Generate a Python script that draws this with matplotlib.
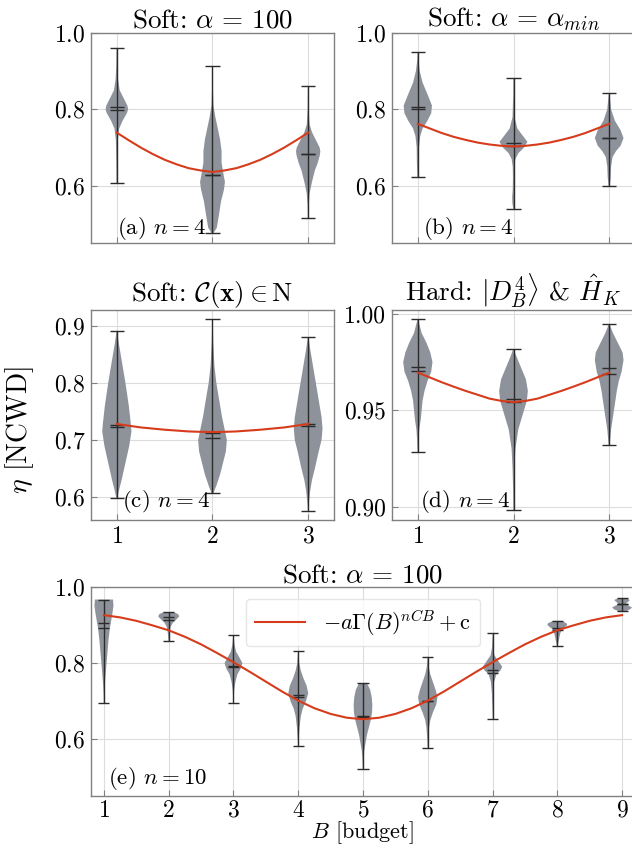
import numpy as np
import matplotlib.pyplot as plt

plt.rcParams["font.family"] = "serif"
plt.rcParams["font.serif"] = ["cmr10"]
plt.rcParams["mathtext.fontset"] = "cm"
plt.rcParams["axes.formatter.use_mathtext"] = True
plt.rcParams["axes.unicode_minus"] = False

# ---- data ----
pos3 = [1, 2, 3]
pos9 = [1, 2, 3, 4, 5, 6, 7, 8, 9]
fit_x3 = [1.0 + 0.125 * i for i in range(17)]

# (a) Soft alpha=100, n=4
a_min = [0.606, 0.476, 0.515]
a_max = [0.962, 0.914, 0.862]
a_mean = [0.806, 0.627, 0.683]
a_median = [0.799, 0.627, 0.683]
a_prof_y = [
    [0.606, 0.66, 0.72, 0.75, 0.77, 0.79, 0.80, 0.81, 0.83, 0.85, 0.88, 0.92, 0.962],
    [0.476, 0.49, 0.52, 0.56, 0.59, 0.61, 0.63, 0.66, 0.69, 0.72, 0.75, 0.78, 0.81, 0.86, 0.914],
    [0.515, 0.55, 0.58, 0.61, 0.64, 0.66, 0.68, 0.69, 0.70, 0.72, 0.74, 0.76, 0.80, 0.862],
]
a_prof_w = [
    [0.003, 0.005, 0.01, 0.025, 0.06, 0.105, 0.118, 0.11, 0.07, 0.03, 0.012, 0.005, 0.003],
    [0.01, 0.045, 0.065, 0.09, 0.12, 0.13, 0.115, 0.095, 0.095, 0.08, 0.055, 0.03, 0.01, 0.004, 0.003],
    [0.003, 0.006, 0.015, 0.04, 0.07, 0.1, 0.122, 0.127, 0.12, 0.08, 0.04, 0.015, 0.005, 0.003],
]
a_fit = [0.739, 0.719, 0.700, 0.683, 0.668, 0.656, 0.646, 0.640, 0.636,
         0.640, 0.646, 0.656, 0.668, 0.683, 0.700, 0.719, 0.739]

# (b) Soft alpha=alpha_min, n=4
b_min = [0.622, 0.539, 0.598]
b_max = [0.949, 0.882, 0.843]
b_mean = [0.806, 0.712, 0.725]
b_median = [0.802, 0.705, 0.724]
b_prof_y = [
    [0.622, 0.66, 0.70, 0.73, 0.75, 0.77, 0.79, 0.81, 0.84, 0.87, 0.90, 0.93, 0.949],
    [0.539, 0.555, 0.57, 0.59, 0.62, 0.65, 0.67, 0.685, 0.70, 0.715, 0.73, 0.75, 0.78, 0.83, 0.882],
    [0.598, 0.62, 0.65, 0.675, 0.69, 0.705, 0.725, 0.745, 0.77, 0.80, 0.843],
]
b_prof_w = [
    [0.005, 0.01, 0.012, 0.025, 0.05, 0.1, 0.14, 0.148, 0.1, 0.05, 0.02, 0.006, 0.003],
    [0.003, 0.012, 0.014, 0.008, 0.006, 0.008, 0.02, 0.05, 0.11, 0.146, 0.1, 0.04, 0.01, 0.004, 0.003],
    [0.005, 0.015, 0.02, 0.035, 0.07, 0.12, 0.15, 0.12, 0.06, 0.02, 0.003],
]
b_fit = [0.762, 0.750, 0.738, 0.728, 0.720, 0.713, 0.708, 0.7045, 0.703,
         0.7045, 0.708, 0.713, 0.720, 0.728, 0.738, 0.750, 0.762]

# (c) Soft C(x) in N, n=4
c_min = [0.598, 0.607, 0.576]
c_max = [0.891, 0.911, 0.880]
c_mean = [0.727, 0.712, 0.728]
c_median = [0.722, 0.703, 0.725]
c_prof_y = [
    [0.598, 0.61, 0.63, 0.66, 0.69, 0.715, 0.73, 0.76, 0.80, 0.84, 0.87, 0.891],
    [0.607, 0.62, 0.64, 0.66, 0.68, 0.70, 0.72, 0.74, 0.77, 0.80, 0.83, 0.87, 0.911],
    [0.576, 0.59, 0.61, 0.63, 0.65, 0.68, 0.70, 0.72, 0.74, 0.77, 0.80, 0.83, 0.86, 0.880],
]
c_prof_w = [
    [0.005, 0.02, 0.05, 0.09, 0.13, 0.153, 0.145, 0.125, 0.09, 0.05, 0.02, 0.003],
    [0.01, 0.04, 0.08, 0.11, 0.14, 0.15, 0.125, 0.10, 0.07, 0.04, 0.02, 0.008, 0.003],
    [0.003, 0.008, 0.02, 0.04, 0.07, 0.11, 0.14, 0.15, 0.14, 0.11, 0.08, 0.05, 0.02, 0.003],
]
c_fit = [0.728, 0.725, 0.722, 0.720, 0.718, 0.7165, 0.715, 0.7143, 0.714,
         0.7143, 0.715, 0.7165, 0.718, 0.720, 0.722, 0.725, 0.728]

# (d) Hard |D_B^4> & H_K, n=4
d_min = [0.9283, 0.898, 0.9319]
d_max = [0.9972, 0.9818, 0.9948]
d_mean = [0.9723, 0.956, 0.9717]
d_median = [0.9702, 0.954, 0.969]
d_prof_y = [
    [0.9283, 0.935, 0.94, 0.945, 0.95, 0.955, 0.96, 0.965, 0.97, 0.975, 0.98, 0.985, 0.99, 0.9972],
    [0.898, 0.91, 0.92, 0.93, 0.935, 0.94, 0.945, 0.95, 0.955, 0.96, 0.966, 0.972, 0.978, 0.9818],
    [0.9319, 0.94, 0.945, 0.95, 0.955, 0.96, 0.965, 0.97, 0.976, 0.98, 0.985, 0.99, 0.9948],
]
d_prof_w = [
    [0.003, 0.008, 0.015, 0.03, 0.04, 0.05, 0.07, 0.1, 0.14, 0.153, 0.13, 0.09, 0.04, 0.003],
    [0.003, 0.005, 0.01, 0.02, 0.035, 0.05, 0.08, 0.11, 0.14, 0.15, 0.13, 0.08, 0.03, 0.003],
    [0.005, 0.02, 0.035, 0.05, 0.065, 0.08, 0.1, 0.13, 0.15, 0.14, 0.09, 0.04, 0.003],
]
d_fit = [0.9695, 0.9670, 0.9645, 0.9622, 0.9600, 0.9580, 0.9560, 0.9548, 0.9542,
         0.9548, 0.9560, 0.9580, 0.9600, 0.9622, 0.9645, 0.9670, 0.9695]

# (e) Soft alpha=100, n=10
e_min = [0.694, 0.858, 0.694, 0.581, 0.520, 0.576, 0.653, 0.846, 0.936]
e_max = [0.967, 0.934, 0.874, 0.831, 0.747, 0.817, 0.879, 0.911, 0.971]
e_mean = [0.904, 0.920, 0.792, 0.716, 0.661, 0.701, 0.782, 0.893, 0.956]
e_median = [0.891, 0.914, 0.789, 0.710, 0.659, 0.699, 0.775, 0.888, 0.955]
e_prof_y = [
    [0.694, 0.72, 0.74, 0.77, 0.80, 0.83, 0.86, 0.89, 0.91, 0.93, 0.95, 0.967],
    [0.858, 0.868, 0.88, 0.895, 0.905, 0.915, 0.922, 0.928, 0.934],
    [0.694, 0.71, 0.73, 0.75, 0.77, 0.785, 0.80, 0.815, 0.83, 0.85, 0.874],
    [0.581, 0.60, 0.63, 0.66, 0.68, 0.70, 0.72, 0.74, 0.76, 0.78, 0.80, 0.831],
    [0.520, 0.55, 0.57, 0.59, 0.61, 0.63, 0.65, 0.67, 0.69, 0.71, 0.73, 0.747],
    [0.576, 0.60, 0.63, 0.65, 0.67, 0.69, 0.71, 0.73, 0.75, 0.77, 0.79, 0.817],
    [0.653, 0.69, 0.72, 0.75, 0.77, 0.78, 0.79, 0.80, 0.82, 0.84, 0.879],
    [0.846, 0.85, 0.86, 0.87, 0.88, 0.89, 0.895, 0.90, 0.905, 0.911],
    [0.936, 0.941, 0.946, 0.951, 0.955, 0.958, 0.962, 0.966, 0.971],
]
e_prof_w = [
    [0.002, 0.005, 0.012, 0.025, 0.04, 0.055, 0.07, 0.09, 0.11, 0.13, 0.147, 0.14],
    [0.003, 0.008, 0.015, 0.03, 0.06, 0.12, 0.16, 0.15, 0.08],
    [0.002, 0.005, 0.012, 0.03, 0.06, 0.11, 0.138, 0.09, 0.04, 0.015, 0.003],
    [0.002, 0.008, 0.02, 0.04, 0.07, 0.12, 0.154, 0.13, 0.08, 0.04, 0.015, 0.003],
    [0.003, 0.01, 0.02, 0.04, 0.06, 0.09, 0.12, 0.14, 0.144, 0.135, 0.11, 0.06],
    [0.002, 0.008, 0.02, 0.04, 0.08, 0.13, 0.15, 0.12, 0.08, 0.04, 0.015, 0.003],
    [0.002, 0.005, 0.01, 0.025, 0.06, 0.12, 0.15, 0.11, 0.03, 0.008, 0.002],
    [0.005, 0.012, 0.025, 0.035, 0.05, 0.08, 0.12, 0.154, 0.14, 0.06],
    [0.05, 0.12, 0.154, 0.1, 0.06, 0.07, 0.1, 0.12, 0.05],
]
e_fit_x = [1.0 + 0.25 * i for i in range(33)]
e_fit = [0.926, 0.920, 0.911, 0.899, 0.886, 0.869, 0.849, 0.826, 0.802, 0.777, 0.751,
         0.725, 0.701, 0.681, 0.666, 0.656, 0.652, 0.656, 0.666, 0.681, 0.701, 0.725,
         0.751, 0.777, 0.802, 0.826, 0.849, 0.869, 0.886, 0.899, 0.911, 0.920, 0.926]

BODY = "#8e929a"
LINE = "#2b2b2b"
RED = "#d63c1c"


def draw_violins(ax, pos, lo, hi, mean, med, py, pw, cap):
    stats = []
    widths = []
    for y, w, m, md, l, h in zip(py, pw, mean, med, lo, hi):
        stats.append({"coords": np.array(y), "vals": np.array(w), "mean": m,
                      "median": md, "min": l, "max": h})
        widths.append(2 * max(w))
    parts = ax.violin(stats, positions=pos, widths=widths, showmeans=False,
                      showextrema=False, showmedians=False)
    for b in parts["bodies"]:
        b.set_facecolor(BODY)
        b.set_edgecolor("none")
        b.set_alpha(1)
    p = np.array(pos)
    ax.vlines(p, lo, hi, color=LINE, lw=1.0, zorder=3)
    for vals in (lo, hi, mean, med):
        ax.hlines(vals, p - cap / 2, p + cap / 2, color=LINE, lw=1.0, zorder=3)


def style(ax):
    ax.grid(True, color="#dcdcdc", lw=0.8)
    ax.set_axisbelow(True)
    for s in ax.spines.values():
        s.set_color("#808080")
        s.set_linewidth(1.0)
    ax.tick_params(direction="in", length=4, color="#808080", labelsize=17, pad=4)


W, H = 632, 846
fig = plt.figure(figsize=(W / 100, H / 100), dpi=100)


def add_ax(left, top, right, bottom):
    return fig.add_axes([left / W, 1 - bottom / H, (right - left) / W, (bottom - top) / H])


ax_a = add_ax(91, 33, 334, 243)
ax_b = add_ax(392, 33, 635, 243)
ax_c = add_ax(91, 310, 334, 520)
ax_d = add_ax(392, 310, 635, 520)
ax_e = add_ax(91, 587, 635, 796)

panels = [
    (ax_a, a_min, a_max, a_mean, a_median, a_prof_y, a_prof_w, a_fit,
     r"Soft: $\alpha\,=\,100$", r"(a) $n = 4$", (0.107, 0.071)),
    (ax_b, b_min, b_max, b_mean, b_median, b_prof_y, b_prof_w, b_fit,
     r"Soft: $\alpha\,=\,\alpha_{min}$", r"(b) $n = 4$", (0.128, 0.071)),
    (ax_c, c_min, c_max, c_mean, c_median, c_prof_y, c_prof_w, c_fit,
     r"Soft: $\mathcal{C}(\mathbf{x}) \in \mathrm{N}$", r"(c) $n = 4$", (0.128, 0.086)),
    (ax_d, d_min, d_max, d_mean, d_median, d_prof_y, d_prof_w, d_fit,
     r"Hard: $|D_B^4\rangle$ & $\hat{H}_K$", r"(d) $n = 4$", (0.115, 0.086)),
]

for ax, lo, hi, mn, md, py, pw, fit, title, tag, tpos in panels:
    draw_violins(ax, pos3, lo, hi, mn, md, py, pw, 0.15)
    ax.plot(fit_x3, fit, color=RED, lw=1.5, zorder=4)
    style(ax)
    ax.set_xlim(0.73, 3.27)
    ax.set_xticks(pos3)
    ax.set_title(title, fontsize=19.5, pad=3)
    ax.text(tpos[0], tpos[1], tag, transform=ax.transAxes, fontsize=16.5,
            ha="left", va="center")

ax_a.set_ylim(0.45, 1.0)
ax_b.set_ylim(0.45, 1.0)
ax_a.set_yticks([0.6, 0.8, 1.0])
ax_b.set_yticks([0.6, 0.8, 1.0])
ax_a.tick_params(labelbottom=False)
ax_b.tick_params(labelbottom=False)
ax_c.set_ylim(0.56, 0.9275)
ax_c.set_yticks([0.6, 0.7, 0.8, 0.9])
ax_d.set_ylim(0.893, 1.002)
ax_d.set_yticks([0.90, 0.95, 1.00])
ax_d.set_yticklabels(["0.90", "0.95", "1.00"])

draw_violins(ax_e, pos9, e_min, e_max, e_mean, e_median, e_prof_y, e_prof_w, 0.17)
ax_e.plot(e_fit_x, e_fit, color=RED, lw=1.5, zorder=4,
          label=r"$-a\Gamma(B)^{nCB}+\mathrm{c}$")
style(ax_e)
ax_e.tick_params(axis="x", pad=2.5)
ax_e.set_xlim(0.8, 9.2)
ax_e.set_ylim(0.45, 1.0)
ax_e.set_xticks(pos9)
ax_e.set_yticks([0.6, 0.8, 1.0])
ax_e.set_title(r"Soft: $\alpha\,=\,100$", fontsize=19.5, pad=3)
ax_e.text(0.031, 0.086, r"(e) $n = 10$", transform=ax_e.transAxes, fontsize=16.5,
          ha="left", va="center")
ax_e.legend(loc="upper center", bbox_to_anchor=(0.5, 0.943), borderaxespad=0,
            fontsize=16, handlelength=2.25, handletextpad=0.85, borderpad=0.4,
            frameon=True, framealpha=0.8, edgecolor="#e0e0e0")

fig.text(362 / W, 1 - 833 / H, r"$B$ [budget]", fontsize=16,
         ha="center", va="center")
fig.text(20 / W, 1 - 430 / H, r"$\eta$ [NCWD]", rotation=90, fontsize=20,
         ha="center", va="center")

fig.savefig("out.png", dpi=100)
